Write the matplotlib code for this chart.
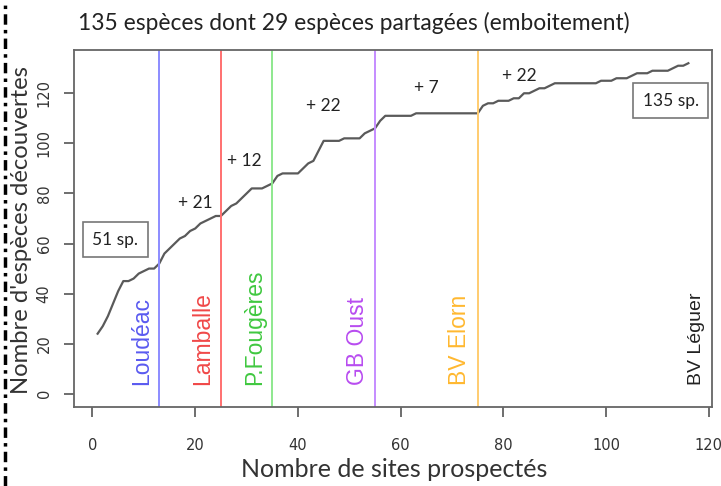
import matplotlib.pyplot as plt
from matplotlib.lines import Line2D

# cumulative number of species discovered, site by site (1..116)
species_cum = [
    24, 27, 31, 36, 41, 45, 45, 46, 48, 49,
    50, 50, 52, 56, 58, 60, 62, 63, 65, 66,
    68, 69, 70, 71, 71, 73, 75, 76, 78, 80,
    82, 82, 82, 83, 84, 87, 88, 88, 88, 88,
    90, 92, 93, 97, 101, 101, 101, 101, 102, 102,
    102, 102, 104, 105, 106, 109, 111, 111, 111, 111,
    111, 111, 112, 112, 112, 112, 112, 112, 112, 112,
    112, 112, 112, 112, 112, 115, 116, 116, 117, 117,
    117, 118, 118, 120, 120, 121, 122, 122, 123, 124,
    124, 124, 124, 124, 124, 124, 124, 124, 125, 125,
    125, 126, 126, 126, 127, 128, 128, 128, 129, 129,
    129, 129, 130, 131, 131, 132,
]
sites = list(range(1, len(species_cum) + 1))

# end of each sampling zone (site index) and zone names
zone_ends = [13, 25, 35, 55, 75]
zone_names = ["Loudéac", "Lamballe", "P.Fougères", "GB Oust", "BV Elorn"]
last_zone = "BV Léguer"

# species added per zone
gain_labels = ["+ 21", "+ 12", "+ 22", "+ 7", "+ 22"]
gain_x = [20.0, 29.5, 45.0, 65.0, 83.0]
gain_y = [76, 93, 115, 122, 127]

line_colors = ["#8c8cff", "#ff7070", "#8ee88e", "#c58cff", "#ffcc70"]
text_colors = ["#5a5af0", "#f04848", "#40c840", "#b84cf0", "#ffb830"]

x_ticks = [0, 20, 40, 60, 80, 100, 120]
y_ticks = [0, 20, 40, 60, 80, 100, 120]

W, H = 721, 486
fig = plt.figure(figsize=(W / 100, H / 100), dpi=100)
ax = fig.add_axes([74 / W, 1 - 407 / H, (712 - 74) / W, (407 - 50) / H])

ax.plot(sites, species_cum, color="#5a5a5a", linewidth=1.6)

for xe, name, lc, tc in zip(zone_ends, zone_names, line_colors, text_colors):
    ax.axvline(xe, color=lc, linewidth=1.4)
    ax.text(xe - 3.5, 3.5, name, rotation=90, ha="center", va="bottom",
            color=tc, fontsize=16.5, family="Liberation Sans")
ax.text(sites[-1] + 1.5, 3.5, last_zone, rotation=90, ha="center", va="bottom",
        color="#222222", fontsize=14, family="Liberation Sans")

for lab, gx, gy in zip(gain_labels, gain_x, gain_y):
    ax.text(gx, gy, lab, ha="center", va="center", fontsize=12.5,
            family="Lato", color="#222222")

box = dict(boxstyle="square,pad=0.55", fc="white", ec="#777777", lw=1.2)
ax.text(0, 61.5, f"{species_cum[12] - 1} sp.", ha="left", va="center",
        fontsize=12.5, family="Lato", color="#222222", bbox=box)
ax.text(107.1, 117, "135 sp.", ha="left", va="center",
        fontsize=12.5, family="Lato", color="#222222", bbox=box)

ax.set_xlim(-3.6, 120.6)
ax.set_ylim(-5.28, 137.28)
ax.set_xticks(x_ticks)
ax.set_yticks(y_ticks)
ax.set_xticklabels([str(v) for v in x_ticks], family="Liberation Sans Narrow",
                   fontsize=10.5, color="#333333")
ax.set_yticklabels([str(v) for v in y_ticks], family="Liberation Sans Narrow",
                   fontsize=10.5, color="#333333", rotation=90, va="center")
ax.tick_params(axis="x", length=7, width=1.2, color="#555555", pad=15)
ax.tick_params(axis="y", length=7, width=1.2, color="#555555", pad=9)
for sp in ax.spines.values():
    sp.set_color("#666666")
    sp.set_linewidth(1.3)

fig.text(78 / W, 1 - 23 / H, "135 espèces dont 29 espèces partagées (emboitement)",
         ha="left", va="center", fontsize=16.4, family="Lato", color="#222222")
fig.text(394 / W, 1 - 469 / H, "Nombre de sites prospectés", ha="center",
         va="center", fontsize=18, family="Lato", color="#333333")
fig.text(22 / W, 1 - 230 / H, "Nombre d'espèces découvertes", ha="center",
         va="center", rotation=90, fontsize=17.2, family="Lato", color="#333333")

# dash-dot slide border on the far left
fig.add_artist(Line2D([5 / W, 5 / W], [0, 1], transform=fig.transFigure,
                      color="black", linewidth=2.5, dashes=(3, 1.5, 1, 1.5)))

fig.savefig("out.png", dpi=100)
